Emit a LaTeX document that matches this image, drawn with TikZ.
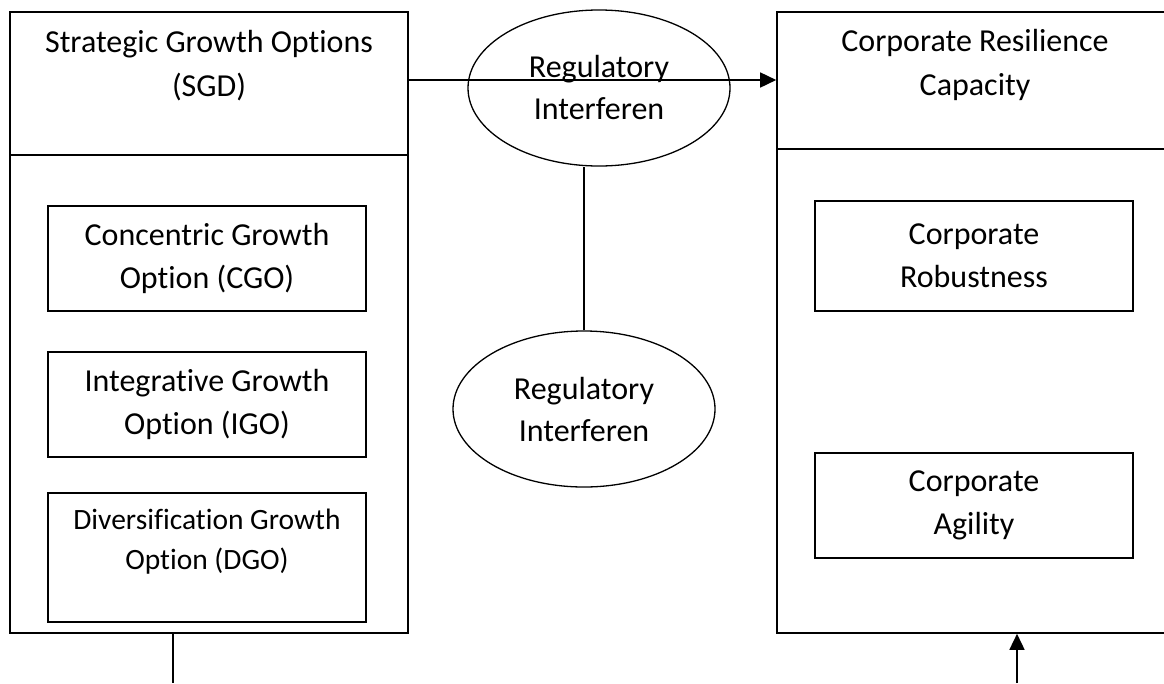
\documentclass[tikz,border=0pt]{standalone}
\usepackage{fontspec}
\setmainfont{Carlito}[Ligatures=NoCommon]
\usetikzlibrary{shapes.geometric,arrows.meta}

\begin{document}
\begin{tikzpicture}[x=1pt, y=-1pt]
        \tikzset{
        rc frame/.style={rectangle,draw,line width=1.6pt,minimum width=398pt,minimum height=621pt,inner sep=0},
        rc box/.style={rectangle,draw,line width=1.3pt,minimum width=318pt,inner sep=0,align=center,font=\fontsize{32}{43}\selectfont},
        rc ellipse/.style={ellipse,draw,line width=1.3pt,minimum width=262pt,minimum height=156pt,inner sep=0,align=center,font=\fontsize{32}{42}\selectfont},
        rc text/.style={align=center,inner sep=0,font=\fontsize{32}{44}\selectfont},
        rc edge/.style={line width=1.3pt},
        rc arrow/.style={line width=1.6pt,-{Triangle[length=16pt,width=15pt]}}
        }
        \clip (0,0) rectangle (1164,683);

        \node[rc frame] (sgd) at (209,322.5) {};
        \node[rc frame, minimum width=396pt] (crc) at (975,322.5) {};
        \node[rc text] (sgdhead) at (209,66) {Strategic Growth Options\\(SGD)};
        \node[rc text] (crchead) at (975,65) {Corporate Resilience\\Capacity};
        \coordinate (sgdcut) at (0,155);
        \coordinate (crccut) at (0,149);

        \node[rc box, minimum height=105pt] (cgo) at (207,258.5) {Concentric Growth\\Option (CGO)};
        \node[rc box, minimum height=105pt] (igo) at (207,404.5) {Integrative Growth\\Option (IGO)};
        \node[rc box, minimum height=129pt] (dgo) at (207,557.5) {};
        \node[rc text, font=\fontsize{29.5}{40}\selectfont] (dgotext) at (207,542) {Diversification Growth\\Option (DGO)};

        \node[rc box, minimum height=110pt] (rob) at (974,256) {Corporate\\Robustness};
        \node[rc box, minimum height=105pt] (agi) at (974,505.5) {Corporate\\Agility};

        \node[rc ellipse] (ri1) at (599,88) {Regulatory\\Interferen};
        \node[rc ellipse] (ri2) at (584,409) {Regulatory\\Interferen};

        \coordinate (flow) at (0,80);
        \coordinate (sgdout) at (173,683);
        \coordinate (crcin) at (1017,683);

        \path[draw,line width=1.6pt]
        (sgd.west |- sgdcut) edge (sgd.east |- sgdcut)
        (crc.west |- crccut) edge (crc.east |- crccut)
        ;
        \path[draw,rc edge]
        (ri2.north) edge (ri2.north |- ri1.south)
        (sgd.south -| sgdout) edge (sgdout)
        ;
        \draw[rc arrow] (sgd.east |- flow) -- (crc.west |- flow);
        \draw[rc arrow] (crcin) -- (crcin |- crc.south);
    \end{tikzpicture}
\end{document}
